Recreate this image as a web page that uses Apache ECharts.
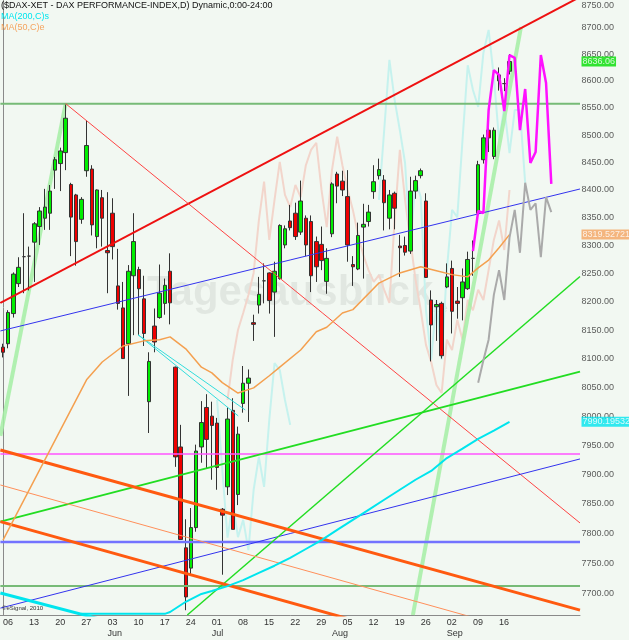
<!DOCTYPE html>
<html><head><meta charset="utf-8">
<script src="https://cdn.jsdelivr.net/npm/echarts@6/dist/echarts.min.js"></script>
<style>html,body{margin:0;padding:0;background:#f2f8f2;}#c{width:629px;height:640px;}</style>
</head><body><div id="c"></div>
<script>
// ---------------- data ----------------
const startDay = [2013, 4, 6];      // 2013-05-06 (UTC month index)
const dayCount = 111;               // weekdays shown on the time axis
const weekTickDates = ['2013-05-06','2013-05-13','2013-05-20','2013-05-27','2013-06-03','2013-06-10','2013-06-17','2013-06-24','2013-07-01','2013-07-08','2013-07-15','2013-07-22','2013-07-29','2013-08-05','2013-08-12','2013-08-19','2013-08-26','2013-09-02','2013-09-09','2013-09-16'];
const monthTickDates = ['2013-06-03','2013-07-01','2013-08-01','2013-09-02'];
const monthNames = ['Jun','Jul','Aug','Sep'];
const yTicks = [7700,7750,7800,7850,7900,7950,8000,8050,8100,8150,8200,8250,8300,8350,8400,8450,8500,8550,8600,8650,8700,8750];

const opens = [8120,8126,8179,8232,8280,8281,8306,8334,8349,8358, 8436,8448,8468,8410,8391,8347,8435,8438,8316,8386, 8291,8358,8228,8189,8126,8246,8257,8205,8025,8157, 8172,8197,8254,8085,7947,7776,7742,7810,7947,8015, 8000,7988,7841,7879,8010,7866,8022,8057,8163,8194, 8237,8251,8217,8241,8301,8344,8358,8324,8349,8343, 8307,8302,8236,8321,8429,8416,8388,8266,8258,8333, 8343,8397,8426,8418,8349,8394,8299,8300,8290,8398, 8426,8380,8203,8191,8197,8226,8259,8201,8207,8223, 8277,8358,8455,8509,8461,8600,8595,8618];
const closes = [8111,8181,8249,8261,8280,8281,8339,8362,8369,8398, 8455,8471,8531,8351,8307,8383,8481,8337,8400,8349, 8287,8298,8197,8100,8254,8307,8223,8144,8095,8129, 8215,8229,8198,7930,7790,7694,7810,7940,7989,7960, 7984,7912,7831,7995,7807,7969,8057,8066,8160,8213, 8237,8202,8254,8336,8330,8332,8316,8380,8301,8246, 8262,8273,8277,8411,8407,8400,8301,8262,8318,8338, 8360,8415,8437,8377,8391,8367,8296,8288,8398,8417, 8435,8243,8159,8195,8105,8244,8183,8197,8235,8275, 8277,8446,8495,8495,8509,8611,8595,8636.06];
const lows = [8102,8118,8172,8226,8215,8220,8235,8301,8328,8328, 8402,8398,8436,8281,8264,8339,8424,8318,8295,8298, 8215,8275,8186,8100,8035,8141,8141,8122,7971,8111, 8170,8177,8160,7913,7790,7672,7729,7803,7920,7910, 7891,7874,7731,7865,7807,7848,8006,7990,8131,8179, 8197,8179,8138,8239,8295,8327,8310,8319,8281,8217, 8235,8256,8214,8315,8376,8389,8271,8228,8256,8241, 8334,8384,8419,8327,8329,8329,8244,8282,8285,8384, 8421,8242,8095,8131,8100,8224,8144,8170,8167,8221, 8246,8354,8448,8469,8456,8582,8581,8612];
const highs = [8126,8185,8252,8279,8358,8298,8342,8369,8402,8409, 8460,8477,8558,8413,8393,8387,8527,8445,8401,8400, 8396,8385,8294,8235,8265,8358,8262,8246,8111,8188, 8266,8241,8286,8086,7985,7824,7843,7951,8026,8038, 8025,7997,7843,8015,8031,7982,8087,8081,8177,8244, 8268,8252,8271,8338,8336,8373,8377,8417,8354,8354, 8316,8334,8295,8414,8433,8435,8436,8281,8341,8375, 8373,8445,8457,8427,8400,8397,8319,8316,8424,8426, 8439,8394,8220,8203,8200,8268,8273,8226,8259,8289, 8309,8453,8501,8516,8514,8625,8605,8650];

// moving averages  [day index, value]
const ma50 = [[0,7789],[16,8063],[19,8094],[23,8122],[27,8131],[30,8133],[32,8138],[35,8117],[38,8085],[40,8075],[42,8058],[45,8040],[48,8049],[51,8070],[53,8085],[57,8115],[60,8147],[62,8155],[65,8180],[67,8186],[72,8233],[76,8251],[80,8262],[83,8255],[86,8248],[89,8244],[91,8260],[93,8274],[95,8296],[97,8319.52721]];
const ma200 = [[15,7666],[31,7666],[32,7669],[35,7686],[38,7699],[40,7704],[43,7712],[46,7722],[49,7734],[52,7746],[55,7759],[58,7774],[61,7789],[64,7806],[67,7823],[70,7840],[73,7857],[76,7874],[79,7891],[82,7906],[85,7928],[88,7944],[91,7961],[94,7975],[97,7990.19532]];

// projections / ghost paths [day index, value]
const projMagenta = [[90,8290],[91,8362],[92,8358],[93,8546],[94,8620],[95,8611],[96,8544],[97,8648],[98,8643],[99,8509],[100,8585],[101,8449],[102,8469],[103,8648],[104,8596],[105,8411]];
const projGray = [[91,8058],[92,8097],[93,8133],[94,8212],[95,8256],[96,8203],[97,8314],[98,8364],[99,8287],[100,8413],[101,8364],[102,8376],[103,8279],[104,8387],[105,8360]];
const ghostPink = [[43,8028],[44,8098],[45,8150],[46,8180],[47,8212],[48,8251],[49,8345],[50,8415],[51,8310],[52,8382],[53,8451],[54,8391],[55,8369],[56,8409],[57,8387],[58,8445],[59,8473],[60,8486],[61,8400],[62,8333],[63,8436],[64,8497],[65,8445],[66,8400],[67,8364],[68,8319],[69,8283],[70,8256],[71,8235],[72,8247],[73,8221],[74,8198],[75,8345],[76,8473],[77,8382],[78,8310],[79,8239],[80,8185],[81,8124],[82,8094],[83,8054],[84,8040],[85,8133],[86,8115],[87,8168],[88,8133],[89,8203],[90,8185],[91,8221],[92,8203],[93,8256],[94,8310],[95,8345],[96,8292],[97,8400]];
const ghostCyanA = [[41,8028],[42,7908],[43,7793],[44,7852],[45,7794],[46,7823],[47,7772],[48,7874],[49,7930],[50,7879],[51,7994],[52,8092],[53,8080],[54,8028],[55,7985]];
const ghostCyanB = [[72,8382],[73,8509],[74,8639],[75,8565],[76,8509],[77,8449],[78,8297],[79,8419],[80,8387],[81,8185],[82,8098],[83,8203],[84,8098],[85,8256],[86,8364],[87,8351],[88,8491],[89,8629],[90,8583],[91,8552],[92,8652],[93,8695],[94,8607],[95,8491],[96,8552],[97,8467],[98,8546],[99,8546],[100,8413]];

// drawn trend lines: [day index, value] end points
const redThick = [[-0.5,8197.7],[110.5,8757.1]];
const redThin = [[12,8557.9],[110.5,7817.8]];
const blueUpper = [[-0.5,8148.4],[110.5,8401.8]];
const blueLower = [[-0.5,7675.5],[110.5,7926.5]];
const blueLevel = [[-0.5,7785.8],[110.5,7785.8]];
const magentaLevel = [[-0.5,7934.9],[110.5,7934.9]];
const greenLevelHigh = [[-0.5,8557.9],[110.5,8557.9]];
const greenLevelLow = [[-0.5,7712.3],[110.5,7712.3]];
const greenUpper = [[-0.5,7820],[110.5,8077.2]];
const greenSteep = [[35.3,7664.1],[110.5,8244.7]];
const orangeUpper = [[-0.5,7941.8],[110.5,7672.2]];
const orangeLower = [[-0.5,7820],[110.5,7551.7]];
const orangeThin = [[-0.5,7882.1],[110.5,7610.7]];
const paleGreenA = [[-0.5,7966],[12,8557.9]];
const paleGreenB = [[78.5,7664.1],[99.2,8700.6]];
const cyanThinA = [[25.9,8141.4],[45.05,8000.4]];
const cyanThinB = [[25.9,8141.4],[46.4,8010.7]];
const cyanThick = [[-0.5,7700.6],[20,7654]];

const lastValues = [
  {value: 8636.06, text: '8636.06', bg: '#00dd00'},
  {value: 8319.52721, text: '8319.52721', bg: '#f4a460'},
  {value: 7990.19532, text: '7990.19532', bg: '#00e5ee'}
];

// ---------------- build ----------------
const days = [];
{
  const d = new Date(Date.UTC(startDay[0], startDay[1], startDay[2]));
  while (days.length < dayCount) {
    const wd = d.getUTCDay();
    if (wd !== 0 && wd !== 6) days.push(d.toISOString().slice(0, 10));
    d.setUTCDate(d.getUTCDate() + 1);
  }
}
const candleData = opens.map((o, i) => [o, closes[i], lows[i], highs[i]]);
const FONT = 'Arial, "Liberation Sans", sans-serif';

function line(data, color, width, z, extra) {
  return Object.assign({
    type: 'line', xAxisIndex: 1, yAxisIndex: 0, data: data, symbol: 'none',
    lineStyle: {color: color, width: width}, z: z, silent: true, animation: false, clip: true
  }, extra || {});
}

const xLast = 110.5;
const series = [
  line(ghostPink, '#f2d5cb', 2, 2),
  line(ghostCyanA, '#c6f2ee', 2, 2),
  line(ghostCyanB, '#c6f2ee', 2, 2),
  line(paleGreenA, 'rgba(165,238,165,0.85)', 4, 2),
  line(paleGreenB, 'rgba(165,238,165,0.85)', 4, 2),
  {
    type: 'candlestick', xAxisIndex: 0, yAxisIndex: 0, data: candleData, barWidth: 4, z: 3,
    itemStyle: {color: '#00ee00', color0: '#ee0000', borderColor: '#333', borderColor0: '#333', borderColorDoji: '#333', borderWidth: 1},
    silent: true, animation: false
  },
  line(greenLevelHigh, '#77bb77', 2, 4),
  line(greenLevelLow, '#77bb77', 2, 4),
  line(blueLevel, '#7373ff', 2.5, 4),
  line(magentaLevel, '#ff55ff', 1.5, 4),
  line(redThick, '#ee1111', 2, 4),
  line(redThin, '#ff4444', 1, 4),
  line(blueUpper, '#3333ee', 1, 4),
  line(blueLower, '#3333ee', 1, 4),
  line(greenUpper, '#22dd22', 2, 4),
  line(greenSteep, '#22dd22', 1.5, 4),
  line(orangeUpper, '#ff5a10', 3, 4),
  line(orangeLower, '#ff5a10', 3, 4),
  line(orangeThin, '#ff8f5a', 1, 4),
  line(cyanThinA, '#33dddd', 1, 4),
  line(cyanThinB, '#33dddd', 1, 4),
  line(cyanThick, '#00e5ee', 3, 4),
  line(ma200, '#00e5ee', 2, 5),
  line(ma50, '#f4a050', 1.5, 5),
  line(projGray, '#aaaaaa', 2, 6),
  line(projMagenta, '#ff11ff', 2.5, 6),
  {
    type: 'scatter', xAxisIndex: 1, yAxisIndex: 0, clip: false, silent: true, animation: false, z: 7,
    symbolSize: 1, itemStyle: {color: 'rgba(0,0,0,0)'},
    data: yTicks.map(v => ({value: [xLast, v], label: v === 8750 ? {offset: [0, 5]} : undefined})),
    label: {show: true, position: 'right', distance: 1, fontSize: 9, fontFamily: FONT, color: '#333',
      formatter: p => p.value[1].toFixed(2)}
  },
  {
    type: 'scatter', xAxisIndex: 1, yAxisIndex: 0, clip: false, silent: true, animation: false, z: 8,
    symbolSize: 1, itemStyle: {color: 'rgba(0,0,0,0)'},
    data: lastValues.map(d => ({value: [xLast, d.value], label: {formatter: d.text, backgroundColor: d.bg}})),
    label: {show: true, position: 'right', distance: 1, fontSize: 9, fontFamily: FONT, color: '#fff', padding: [1, 1, 0, 1]}
  }
];

const chart = echarts.init(document.getElementById('c'), null, {renderer: 'canvas'});
chart.setOption({
  animation: false,
  backgroundColor: '#f2f8f2',
  grid: {left: 0, right: 49, top: 0, bottom: 25},
  xAxis: [
    {type: 'category', data: days, boundaryGap: true,
      axisLine: {show: true, lineStyle: {color: '#8a8a8a', width: 1}}, axisTick: {show: false}, splitLine: {show: false},
      axisLabel: {interval: (i, v) => weekTickDates.indexOf(v) >= 0, formatter: v => v.slice(8, 10),
        align: 'left', margin: 3, fontSize: 9, fontFamily: FONT, color: '#333'}},
    {type: 'value', min: -0.5, max: 110.5, show: false},
    {type: 'category', data: days, boundaryGap: true, position: 'bottom', offset: 11,
      axisLine: {show: false}, axisTick: {show: false}, splitLine: {show: false},
      axisLabel: {interval: (i, v) => monthTickDates.indexOf(v) >= 0, formatter: v => monthNames[monthTickDates.indexOf(v)] || '',
        align: 'left', margin: 3, fontSize: 9, fontFamily: FONT, color: '#333'}}
  ],
  yAxis: [{type: 'log', min: 7664.1, max: 8751.4, position: 'right',
    axisLine: {show: true, lineStyle: {color: '#8a8a8a', width: 1}}, axisTick: {show: false},
    axisLabel: {show: false}, splitLine: {show: false}}],
  graphic: [
    {type: 'text', left: 147, top: 272, z: 0, silent: true,
      style: {text: 'Tagesausblick', font: 'bold 42px ' + FONT, fill: 'rgba(0,0,0,0.065)'}},
    {type: 'text', left: 433, top: 304, z: 0, silent: true,
      style: {text: '.de', font: 'bold 10px ' + FONT, fill: 'rgba(0,0,0,0.08)'}},
    {type: 'text', left: 1, top: 1, z: 100, silent: true,
      style: {text: '($DAX-XET - DAX PERFORMANCE-INDEX,D) Dynamic,0:00-24:00', font: '9px ' + FONT, fill: '#111'}},
    {type: 'text', left: 1, top: 12, z: 100, silent: true,
      style: {text: 'MA(200,C)s', font: '9px ' + FONT, fill: '#00e5ee'}},
    {type: 'text', left: 1, top: 23, z: 100, silent: true,
      style: {text: 'MA(50,C)e', font: '9px ' + FONT, fill: '#f4a460'}},
    {type: 'text', left: 2, top: 605, z: 100, silent: true,
      style: {text: '\u00a9eSignal, 2010', font: '6px ' + FONT, fill: '#333'}}
  ],
  series: series
});
</script>
</body></html>
